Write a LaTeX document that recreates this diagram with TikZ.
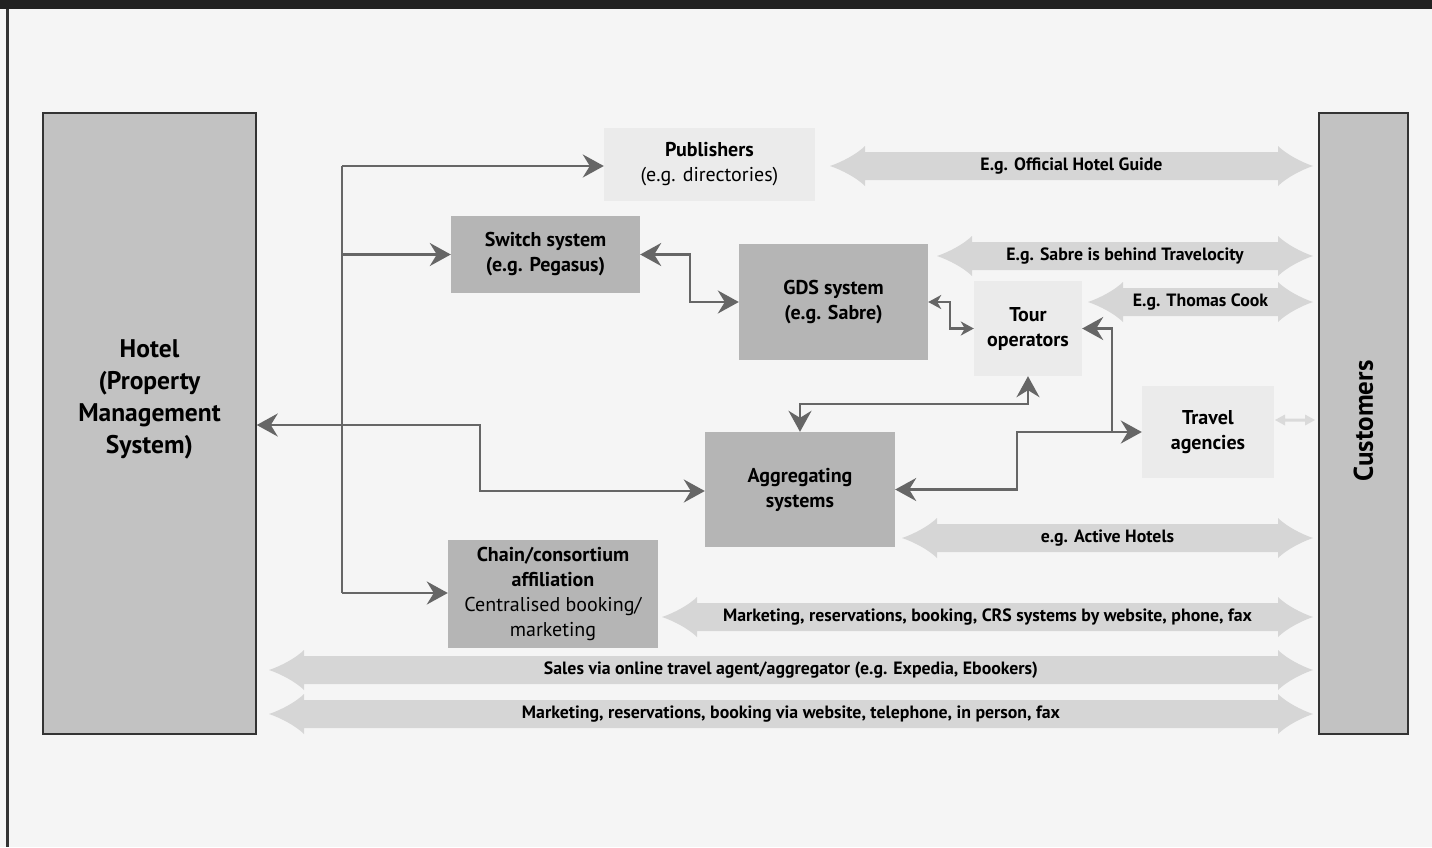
\documentclass[tikz,border=0pt]{standalone}
\usepackage{fontspec}
\setmainfont{PT Sans}
\usetikzlibrary{arrows.meta}
\definecolor{bgc}{HTML}{F5F5F5}
\definecolor{barc}{HTML}{222222}
\definecolor{framec}{HTML}{333333}
\definecolor{bigfill}{HTML}{C2C2C2}
\definecolor{darkfill}{HTML}{B5B5B5}
\definecolor{lightfill}{HTML}{EBEBEB}
\definecolor{connc}{HTML}{666666}
\definecolor{wfill}{HTML}{D6D6D6}
\definecolor{sfill}{HTML}{DADADA}
\tikzset{
  bigtip/.tip={Stealth[length=21pt,width=23pt,inset=7pt]},
  smalltip/.tip={Stealth[length=13pt,width=14pt,inset=4pt]},
  bigbox/.style={draw=framec, line width=1.5pt, fill=bigfill, inner sep=0pt},
  darkbox/.style={fill=darkfill, inner sep=0pt, align=center, font=\fontsize{20}{25}\selectfont},
  lightbox/.style={fill=lightfill, inner sep=0pt, align=center, font=\fontsize{20}{25}\selectfont},
  boldtext/.style={font=\fontsize{20}{25}\selectfont\bfseries},
  htext/.style={align=center, inner sep=0pt, font=\fontsize{25.5}{32}\selectfont\bfseries},
  conn/.style={draw=connc, line width=2.5pt},
  warrow/.style={fill=wfill},
  wlabel/.style={inner sep=0pt, font=\fontsize{17.8}{20}\selectfont\bfseries},
}
\newcommand\wArrow[5]{%
  \fill[warrow] (#2,#4) .. controls ({#2+12},{#4-4}) and ({#2+27},{#4-12}) .. ({#2+35},{#4-20})
    -- ({#2+35},{#4-14}) -- ({#3-35},{#4-14}) -- ({#3-35},{#4-20})
    .. controls ({#3-27},{#4-12}) and ({#3-12},{#4-4}) .. (#3,#4)
    .. controls ({#3-12},{#4+4}) and ({#3-27},{#4+12}) .. ({#3-35},{#4+20})
    -- ({#3-35},{#4+14}) -- ({#2+35},{#4+14}) -- ({#2+35},{#4+20})
    .. controls ({#2+27},{#4+12}) and ({#2+12},{#4+4}) .. (#2,#4) -- cycle;
  \node[wlabel] (#1) at ({(#2+#3)/2},#4) {#5};}
\begin{document}
\begin{tikzpicture}[x=1pt,y=-1pt]
\useasboundingbox (0,0) rectangle (1432,847);
\fill[bgc] (0,0) rectangle (1432,847);
\fill[barc] (0,0) rectangle (1432,8.7);
\draw[framec, line width=2.5pt] (7.5,8.7) -- (7.5,847);

% main boxes
\node[bigbox, minimum width=213pt, minimum height=621pt] (hotel) at (149.5,423.5) {};
\node[htext] (hoteltxt) at (149.5,399) {Hotel\\(Property\\Management\\System)};
\node[bigbox, minimum width=89pt, minimum height=621pt] (cust) at (1363.5,423.5) {};
\node[htext, rotate=90, font=\fontsize{27}{32}\selectfont\bfseries] (custtxt) at (1363.5,421) {Customers};

\node[lightbox, minimum width=211pt, minimum height=73pt] (pub) at (709.5,164.5) {\textbf{Publishers}\\(e.g. directories)};
\node[darkbox, boldtext, minimum width=189pt, minimum height=77pt] (switch) at (545.5,254.5) {Switch system\\(e.g. Pegasus)};
\node[darkbox, boldtext, minimum width=189pt, minimum height=116pt] (gds) at (833.5,302) {GDS system\\(e.g. Sabre)};
\node[lightbox, boldtext, minimum width=108pt, minimum height=95pt] (tour) at (1028,328.5) {Tour\\operators};
\node[lightbox, boldtext, minimum width=132pt, minimum height=92pt] (travel) at (1208,432) {Travel\\agencies};
\node[darkbox, boldtext, minimum width=190pt, minimum height=115pt] (agg) at (800,489.5) {Aggregating\\systems};
\node[darkbox, minimum width=210pt, minimum height=108pt] (chain) at (553,594) {\textbf{Chain/consortium}\\\textbf{affiliation}\\Centralised booking/\\marketing};

% connectors
\coordinate (tTop) at (342,166);
\coordinate (tSw) at (342,254.5);
\coordinate (tBot) at (342,593);
\draw[conn] (tTop) -- (tBot);
\draw[conn,-bigtip] (tTop) -- (tTop -| pub.west);
\draw[conn,-bigtip] (tSw) -- (switch.west);
\draw[conn,-bigtip] (tBot) -- (tBot -| chain.west);

\coordinate (ha1) at (480,425);
\coordinate (ha2) at (480,491);
\draw[conn,bigtip-bigtip] (hotel.east |- ha1) -- (ha1) -- (ha2) -- (ha2 -| agg.west);

\coordinate (sg) at (690,302);
\draw[conn,bigtip-bigtip] (switch.east) -| (sg) -- (gds.west);

\coordinate (gt) at (950,328.5);
\draw[conn,smalltip-smalltip] (gds.east) -| (gt) -- (tour.west);

\coordinate (at) at (800,404);
\draw[conn,bigtip-bigtip] (agg.north) -- (at) -| (tour.south);

\coordinate (atr) at (1017,432);
\draw[conn,bigtip-bigtip] (agg.east) -| (atr) -- (travel.west);
\coordinate (jt) at (1112,432);
\draw[conn,-bigtip] (jt) |- (tour.east);

% wide arrows
\wArrow{ohg}{830}{1313}{166}{E.g. Official Hotel Guide}
\wArrow{sabre}{937}{1313}{256}{E.g. Sabre is behind Travelocity}
\wArrow{cook}{1088}{1313}{302}{E.g. Thomas Cook}
\wArrow{active}{902}{1313}{538}{e.g. Active Hotels}
\wArrow{crs}{662}{1313}{617}{Marketing, reservations, booking, CRS systems by website, phone, fax}
\wArrow{sales}{269}{1313}{670}{Sales via online travel agent/aggregator (e.g. Expedia, Ebookers)}
\wArrow{direct}{269}{1313}{714}{Marketing, reservations, booking via website, telephone, in person, fax}

% small arrow travel agencies - customers
\fill[sfill] (1275,420) -- (1285,414.5) -- (1285,418.5) -- (1305,418.5) -- (1305,414.5) -- (1315,420)
  -- (1305,425.5) -- (1305,421.5) -- (1285,421.5) -- (1285,425.5) -- cycle;
\end{tikzpicture}
\end{document}
